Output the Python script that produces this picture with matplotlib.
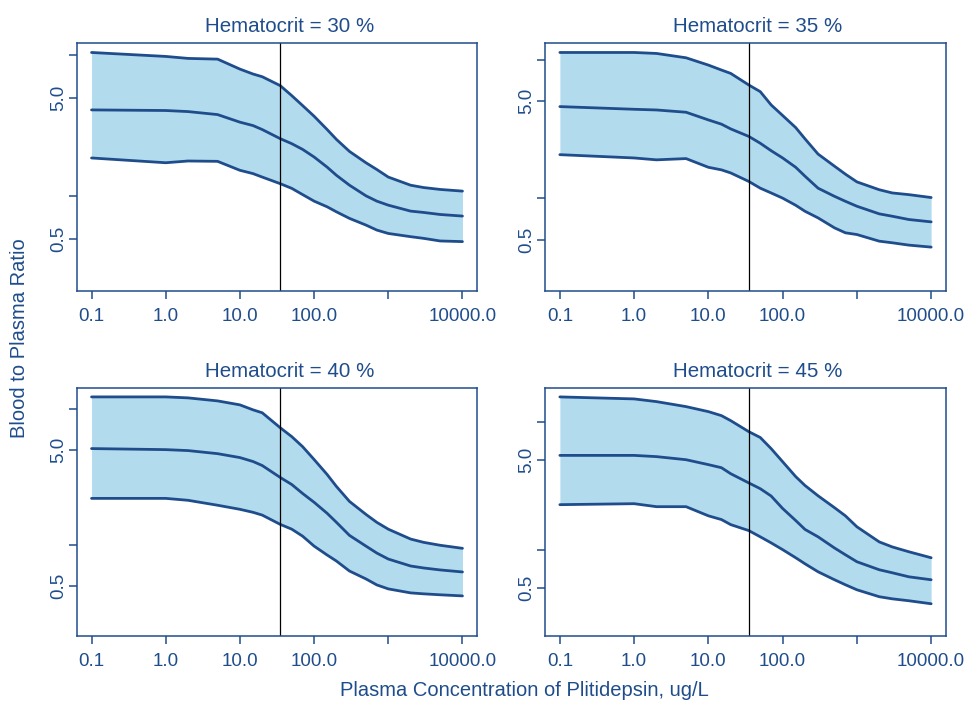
import numpy as np
import matplotlib
matplotlib.use("Agg")
import matplotlib.pyplot as plt

# -----------------------------------
# Data
# -----------------------------------
conc = [0.1, 1, 2, 5, 10, 15, 20, 35, 50, 70, 100, 150, 200, 300, 500, 700,
        1000, 2000, 3000, 5000, 10000]
cmax = 35
hematocrit = [30, 35, 40, 45]

upper_30 = [10.42, 9.77, 9.46, 9.35, 7.95, 7.34, 7.02, 6.07, 5.16, 4.39, 3.69,
            2.97, 2.53, 2.08, 1.73, 1.55, 1.37, 1.20, 1.155, 1.12, 1.09]
median_30 = [4.09, 4.05, 3.98, 3.79, 3.35, 3.17, 2.97, 2.56, 2.36, 2.15, 1.90,
             1.61, 1.41, 1.20, 1.01, 0.926, 0.867, 0.787, 0.770, 0.745, 0.726]
lower_30 = [1.87, 1.73, 1.78, 1.77, 1.53, 1.45, 1.37, 1.23, 1.14, 1.03, 0.926,
            0.844, 0.778, 0.699, 0.627, 0.578, 0.547, 0.519, 0.505, 0.484, 0.479]

upper_35 = [11.26, 11.26, 11.08, 10.31, 9.13, 8.41, 7.95, 6.56, 5.87, 4.71, 3.95,
            3.23, 2.68, 2.08, 1.70, 1.49, 1.31, 1.15, 1.09, 1.06, 1.01]
median_35 = [4.58, 4.38, 4.33, 4.17, 3.67, 3.42, 3.16, 2.79, 2.49, 2.20, 1.95,
             1.67, 1.44, 1.18, 1.03, 0.949, 0.874, 0.770, 0.740, 0.701, 0.674]
lower_35 = [2.06, 1.95, 1.89, 1.93, 1.67, 1.60, 1.52, 1.32, 1.18, 1.09, 1.00,
            0.888, 0.804, 0.720, 0.610, 0.562, 0.546, 0.489, 0.476, 0.458, 0.443]

upper_40 = [12.21, 12.21, 12.01, 11.41, 10.67, 9.81, 9.33, 7.24, 6.23, 5.26, 4.23,
            3.28, 2.68, 2.08, 1.67, 1.46, 1.30, 1.10, 1.04, 0.99, 0.94]
median_40 = [5.09, 5.00, 4.92, 4.67, 4.37, 4.09, 3.82, 3.12, 2.77, 2.38, 2.05,
             1.70, 1.46, 1.17, 0.976, 0.868, 0.784, 0.697, 0.674, 0.652, 0.630]
lower_40 = [2.19, 2.19, 2.12, 1.95, 1.82, 1.73, 1.65, 1.41, 1.30, 1.155, 0.976,
            0.839, 0.758, 0.640, 0.560, 0.506, 0.473, 0.442, 0.435, 0.428, 0.420]

upper_45 = [15.70, 15.14, 14.42, 13.18, 12.04, 11.20, 10.23, 8.39, 7.55, 6.18, 4.88,
            3.73, 3.18, 2.64, 2.13, 1.84, 1.51, 1.15, 1.05, 0.963, 0.864]
median_45 = [5.47, 5.47, 5.35, 5.06, 4.63, 4.38, 3.93, 3.33, 3.00, 2.63, 2.10,
             1.69, 1.44, 1.26, 1.03, 0.912, 0.804, 0.696, 0.659, 0.613, 0.581]
lower_45 = [2.25, 2.29, 2.17, 2.17, 1.84, 1.72, 1.57, 1.41, 1.26, 1.13, 1.00,
            0.864, 0.775, 0.671, 0.581, 0.531, 0.485, 0.428, 0.412, 0.398, 0.377]

y_floor = 0.25

x_ticks = [0.1, 1, 10, 100, 1000, 10000]
x_labels = ["0.1", "1.0", "10.0", "100.0", "", "10000.0"]
y_ticks = [0.5, 1, 5, 10]
y_labels = ["0.5", "", "5.0", ""]

# -----------------------------------
# Style
# -----------------------------------
BLUE = "#1f4d8c"
FILL = "#b3dbee"
plt.rcParams["font.family"] = ["Liberation Sans", "DejaVu Sans"]

panels = [
    (hematocrit[0], upper_30, median_30, lower_30, [0.0794, 0.5859, 0.4147, 0.3524]),
    (hematocrit[1], upper_35, median_35, lower_35, [0.5642, 0.5859, 0.4151, 0.3524]),
    (hematocrit[2], upper_40, median_40, lower_40, [0.0794, 0.0944, 0.4147, 0.3533]),
    (hematocrit[3], upper_45, median_45, lower_45, [0.5642, 0.0944, 0.4151, 0.3533]),
]

fig = plt.figure(figsize=(9.66, 7.02), dpi=100)

for hct, up, med, lo, pos in panels:
    ax = fig.add_axes(pos)
    ax.fill_between(conc, lo, up, color=FILL, linewidth=0)
    for series in (up, med, lo):
        ax.plot(conc, series, color=BLUE, linewidth=2.0, solid_capstyle="round",
                solid_joinstyle="round")
    ax.axvline(cmax, color="black", linewidth=0.9)

    ax.set_xscale("log")
    ax.set_yscale("log")

    # R style 4% padding around the data range
    xl = np.log10([conc[0], conc[-1]])
    xpad = 0.04 * (xl[1] - xl[0])
    ax.set_xlim(10 ** (xl[0] - xpad), 10 ** (xl[1] + xpad))
    yl = np.log10([y_floor, max(up)])
    ypad = 0.04 * (yl[1] - yl[0])
    ax.set_ylim(10 ** (yl[0] - ypad), 10 ** (yl[1] + ypad))

    ax.set_xticks(x_ticks)
    ax.set_xticklabels(x_labels)
    ax.set_yticks(y_ticks)
    ax.set_yticklabels(y_labels, rotation=90, va="center")
    ax.minorticks_off()

    ax.tick_params(axis="both", colors=BLUE, labelcolor=BLUE, length=5.5,
                   width=1.1, labelsize=13.5)
    ax.tick_params(axis="x", pad=7)
    ax.tick_params(axis="y", pad=1.5)
    for sp in ax.spines.values():
        sp.set_color(BLUE)
        sp.set_linewidth(1.1)

    ax.set_title(f"Hematocrit = {hct} %", color=BLUE, fontsize=14.8, pad=8,
                 x=0.531)

fig.text(20 / 966, 1 - 338 / 702, "Blood to Plasma Ratio", rotation=90,
         color=BLUE, fontsize=14.5, ha="center", va="center")
fig.text(524 / 966, 1 - 690 / 702, "Plasma Concentration of Plitidepsin, ug/L",
         color=BLUE, fontsize=14.5, ha="center", va="center")

fig.savefig("out.png", dpi=100)
